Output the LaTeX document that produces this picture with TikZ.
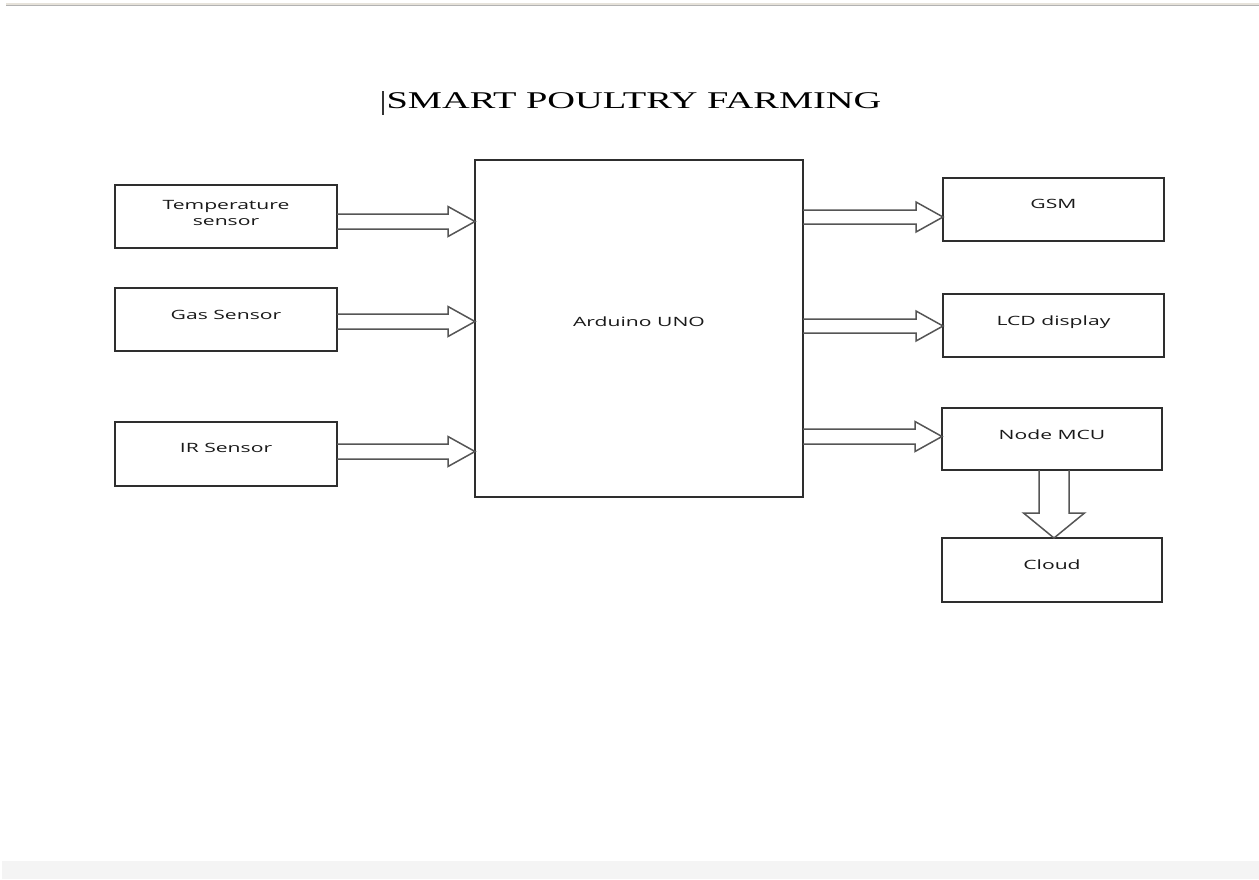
\documentclass[tikz,border=0pt]{standalone}
\usepackage{fontspec}
\setmainfont{Liberation Serif}
\newfontfamily\lblfont{Open Sans}
\usetikzlibrary{calc}
\definecolor{edge}{HTML}{2E2E2E}
\definecolor{arr}{HTML}{555555}
\definecolor{topline}{HTML}{E6E2DA}
\definecolor{strip}{HTML}{F4F4F4}
\tikzset{
  box/.style={draw=edge, line width=1.2pt, inner sep=0pt, outer sep=0pt, fill=white},
  lbl/.style={inner sep=0pt, font=\lblfont\fontsize{12.8}{15.5}\selectfont, align=center, text=black!90},
  fatr/.style={draw=arr, line width=1.5pt, line join=miter,
    to path={let \p1=(\tikztostart), \p2=(\tikztotarget) in
      (\x1,\y2+#1) -- (\x2-27pt,\y2+#1) -- (\x2-27pt,\y2+15pt) -- (\x2,\y2)
      -- (\x2-27pt,\y2-15pt) -- (\x2-27pt,\y2-#1) -- (\x1,\y2-#1)}},
  fatd/.style={draw=arr, line width=1.5pt, line join=miter,
    to path={let \p1=(\tikztostart), \p2=(\tikztotarget) in
      (\x2-15pt,\y1) -- (\x2-15pt,\y2+25pt) -- (\x2-30.5pt,\y2+25pt) -- (\x2,\y2)
      -- (\x2+30.5pt,\y2+25pt) -- (\x2+15pt,\y2+25pt) -- (\x2+15pt,\y1)}}
}
\newcommand{\sx}[1]{\scalebox{1.65}[1]{#1}}
\begin{document}
\begin{tikzpicture}[x=1pt,y=-1pt]
\useasboundingbox (0,0) rectangle (1259,879);
% page chrome
\fill[topline] (6,3) rectangle (1259,6);
\draw[gray!60, line width=0.8pt] (6,5.6) -- (1259,5.6);
\fill[strip] (2,861) rectangle (1259,879);
% title
\node[inner sep=0pt, anchor=base] (title) at (634,108) {\scalebox{1.6}[1]{\fontsize{24}{28}\selectfont SMART POULTRY FARMING}};
\draw[black!80, line width=1.2pt] (383,91) -- (383,115);
% boxes
\node[box, minimum width=222pt, minimum height=63pt] (T) at (226,216.5) {};
\node[box, minimum width=222pt, minimum height=63pt] (G) at (226,319.5) {};
\node[box, minimum width=222pt, minimum height=64pt] (IR) at (226,454) {};
\node[box, draw=edge, line width=1.6pt, minimum width=328pt, minimum height=337pt] (A) at (639,328.5) {};
\node[box, minimum width=221pt, minimum height=63pt] (GSM) at (1053.5,209.5) {};
\node[box, minimum width=221pt, minimum height=63pt] (LCD) at (1053.5,325.5) {};
\node[box, minimum width=220pt, minimum height=62pt] (MCU) at (1052,439) {};
\node[box, minimum width=220pt, minimum height=64pt] (CL) at (1052,570) {};
% labels
\node[lbl] (Tl) at (226,213) {\sx{Temperature}\\\sx{sensor}};
\node[lbl] (Gl) at (226,315) {\sx{Gas Sensor}};
\node[lbl] (IRl) at (226,448) {\sx{IR Sensor}};
\node[lbl] (Al) at (639,322) {\sx{Arduino UNO}};
\node[lbl] (GSMl) at (1053.5,204) {\sx{GSM}};
\node[lbl] (LCDl) at (1053.5,322) {\sx{LCD display}};
\node[lbl] (MCUl) at (1052,435) {\sx{Node MCU}};
\node[lbl] (CLl) at (1052,565) {\sx{Cloud}};
% arrow levels
\coordinate (aT) at (475,221.5);
\coordinate (aG) at (475,321.5);
\coordinate (aIR) at (475,451.5);
\coordinate (aGSM) at (943,217);
\coordinate (aLCD) at (943,326);
\coordinate (aMCU) at (942,436.5);
\coordinate (aCL) at (1054,538);
% arrows
\draw[fatr=7.5pt] (T.east) to (aT);
\draw[fatr=7.5pt] (G.east) to (aG);
\draw[fatr=7.5pt] (IR.east) to (aIR);
\draw[fatr=7pt] (A.east) to (aGSM);
\draw[fatr=7pt] (A.east) to (aLCD);
\draw[fatr=7.5pt] (A.east) to (aMCU);
\draw[fatd] (MCU.south) to (aCL);
\end{tikzpicture}
\end{document}
